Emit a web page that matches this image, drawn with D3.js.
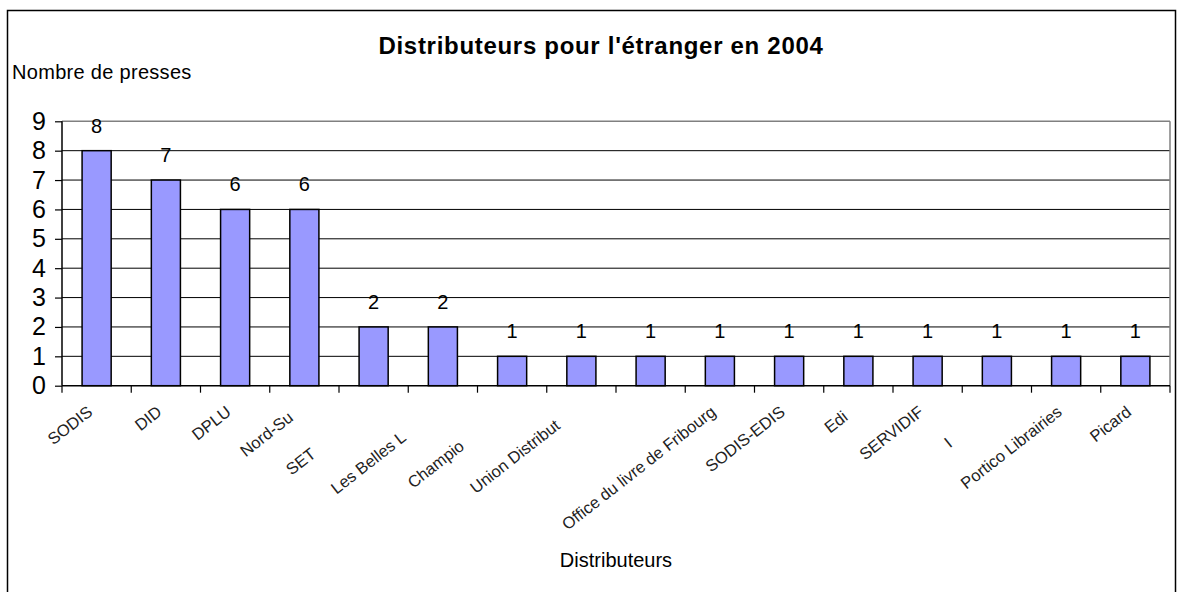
<!DOCTYPE html>
<html>
<head>
<meta charset="utf-8">
<script src="https://cdn.jsdelivr.net/npm/d3@7"></script>
<style>
  html, body { margin: 0; padding: 0; background: #fff; }
  svg { display: block; font-family: "Liberation Sans", Arial, sans-serif; }
</style>
</head>
<body>
<svg id="chart" width="1177" height="592"></svg>
<script>
// ---- data ----
const distributeurs = ["SODIS", "DID", "DPLU", "Nord-Sud", "SET Diffusion", "Les Belles Lettres",
  "Champion Diffus", "Union Distribution", "", "Office du livre de Fribourg", "SODIS-EDIS",
  "Edis", "SERVIDIF", "Inforum", "Portico Librairies", "Picard"];
// number of characters of each label that remain visible (the rest is clipped in the original)
const visibleChars = [5, 3, 4, 7, 3, 12, 7, 15, 0, 27, 10, 3, 8, 1, 18, 6];
const presses = [8, 7, 6, 6, 2, 2, 1, 1, 1, 1, 1, 1, 1, 1, 1, 1];
const yTicks = [0, 1, 2, 3, 4, 5, 6, 7, 8, 9];
const titleText = "Distributeurs pour l'étranger en 2004";
const yTitle = "Nombre de presses";
const xTitle = "Distributeurs";

// ---- layout ----
const svg = d3.select("#chart");
const plot = { left: 62, right: 1170, top: 121.3, bottom: 385.7 };

svg.append("rect").attr("x", 7.5).attr("y", 10.5).attr("width", 1168).attr("height", 600)
  .attr("fill", "#fff").attr("stroke", "#000").attr("stroke-width", 1.5);

const x = d3.scaleBand().domain(d3.range(presses.length)).range([plot.left, plot.right]).padding(0);
const y = d3.scaleLinear().domain([0, 9]).range([plot.bottom, plot.top]);
const barW = x.bandwidth() * 0.42;

// gridlines
svg.append("g").selectAll("line").data(yTicks.filter(t => t > 0)).join("line")
  .attr("x1", plot.left).attr("x2", plot.right)
  .attr("y1", d => y(d)).attr("y2", d => y(d))
  .attr("stroke", d => d === 9 ? "#808080" : "#000")
  .attr("stroke-width", d => d === 9 ? 1.5 : 1);
// right border of plot area
svg.append("line").attr("x1", plot.right).attr("x2", plot.right)
  .attr("y1", y(9)).attr("y2", y(0)).attr("stroke", "#808080").attr("stroke-width", 1.5);

// bars
svg.append("g").selectAll("rect").data(presses).join("rect")
  .attr("x", (d, i) => x(i) + (x.bandwidth() - barW) / 2)
  .attr("y", d => y(d))
  .attr("width", barW)
  .attr("height", d => y(0) - y(d))
  .attr("fill", "#9999FF").attr("stroke", "#000").attr("stroke-width", 1.5);

// data labels
svg.append("g").selectAll("text").data(presses).join("text")
  .attr("x", (d, i) => x(i) + x.bandwidth() / 2)
  .attr("y", d => y(d) - 18)
  .attr("text-anchor", "middle")
  .attr("font-size", 20)
  .text(d => d);

// y axis
const yAxis = svg.append("g").attr("transform", `translate(${plot.left},0)`)
  .call(d3.axisLeft(y).tickValues(yTicks).tickSize(7).tickPadding(9).tickFormat(d3.format("d")));
yAxis.select(".domain").attr("stroke", "#000").attr("stroke-width", 1.5).attr("d", `M-0,${plot.bottom}V${plot.top}`);
yAxis.selectAll(".tick line").attr("stroke", "#000").attr("stroke-width", 1.2);
yAxis.selectAll(".tick text").attr("font-size", 25).attr("fill", "#000")
  .attr("font-family", "Liberation Sans, Arial, sans-serif");

// x axis line and ticks at category boundaries
svg.append("line").attr("x1", plot.left).attr("x2", plot.right)
  .attr("y1", plot.bottom).attr("y2", plot.bottom).attr("stroke", "#000").attr("stroke-width", 1.5);
const bounds = d3.range(presses.length + 1).map(i => i < presses.length ? x(i) : plot.right);
svg.append("g").selectAll("line").data(bounds).join("line")
  .attr("x1", d => d).attr("x2", d => d)
  .attr("y1", plot.bottom).attr("y2", plot.bottom + 7)
  .attr("stroke", "#000").attr("stroke-width", 1.2);

// x labels (rotated)
const lab = svg.append("g").selectAll("text").data(distributeurs).join("text")
  .attr("transform", (d, i) => `translate(${x(i) + x.bandwidth() / 2 - 3},414) rotate(-38)`)
  .attr("text-anchor", "end")
  .attr("font-size", 16.5)
  .attr("fill", "#222");
lab.append("tspan").text((d, i) => d.slice(0, visibleChars[i]));
lab.append("tspan").attr("fill-opacity", 0).text((d, i) => d.slice(visibleChars[i]));

// titles
svg.append("text").attr("x", 601).attr("y", 54).attr("text-anchor", "middle")
  .attr("font-size", 24).attr("font-weight", "bold").attr("letter-spacing", 0.7).text(titleText);
svg.append("text").attr("x", 12).attr("y", 79).attr("font-size", 20).attr("letter-spacing", 0.3).text(yTitle);
svg.append("text").attr("x", (plot.left + plot.right) / 2).attr("y", 567).attr("text-anchor", "middle")
  .attr("font-size", 20).text(xTitle);
</script>
</body>
</html>
